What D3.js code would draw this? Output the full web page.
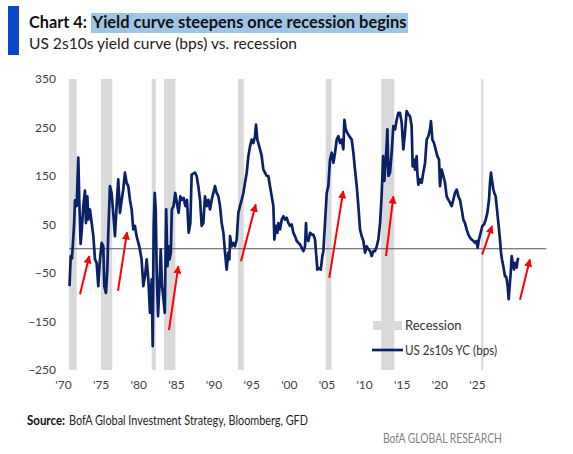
<!DOCTYPE html>
<html><head><meta charset="utf-8">
<script src="https://cdn.jsdelivr.net/npm/d3@7"></script>
<style>html,body{margin:0;padding:0;background:#fff;} svg{display:block;font-family:Lato,"Open Sans",sans-serif;}</style>
</head><body>
<svg id="c" width="573" height="454"></svg>
<script>
// ---- data ----
const years = [1970.0,1970.15,1970.3,1970.55,1970.67,1970.87,1971.07,1971.19,1971.35,1971.47,1971.68,1971.88,1972.0,1972.17,1972.29,1972.49,1972.7,1972.9,1973.1,1973.3,1973.5,1973.71,1973.91,1974.11,1974.23,1974.43,1974.6,1974.72,1974.92,1975.12,1975.32,1975.53,1975.73,1975.93,1976.14,1976.34,1976.54,1976.74,1976.95,1977.15,1977.36,1977.56,1977.76,1977.96,1978.16,1978.49,1978.77,1978.98,1979.18,1979.39,1979.59,1979.79,1980.0,1980.12,1980.24,1980.37,1980.49,1980.61,1980.77,1980.94,1981.1,1981.26,1981.43,1981.59,1981.76,1981.92,1982.04,1982.17,1982.33,1982.45,1982.66,1982.86,1983.06,1983.27,1983.48,1983.68,1983.88,1984.09,1984.29,1984.5,1984.7,1984.86,1985.05,1985.27,1985.47,1985.67,1985.88,1986.08,1986.28,1986.48,1986.69,1986.89,1987.09,1987.3,1987.5,1987.7,1987.9,1988.11,1988.31,1988.51,1988.72,1988.92,1989.12,1989.32,1989.45,1989.53,1989.73,1989.93,1990.13,1990.34,1990.54,1990.74,1990.95,1991.15,1991.35,1991.56,1991.76,1991.96,1992.16,1992.37,1992.57,1992.69,1992.85,1992.97,1993.18,1993.38,1993.58,1993.78,1993.99,1994.19,1994.39,1994.6,1994.8,1994.92,1995.12,1995.29,1995.41,1995.61,1995.81,1996.02,1996.22,1996.42,1996.62,1996.83,1997.03,1997.23,1997.43,1997.64,1997.84,1998.04,1998.25,1998.45,1998.65,1998.77,1998.85,1999.06,1999.26,1999.46,1999.66,1999.87,1999.99,2000.15,2000.35,2000.56,2000.76,2000.88,2001.08,2001.29,2001.49,2001.69,2001.9,2002.1,2002.3,2002.5,2002.71,2002.91,2003.11,2003.31,2003.44,2003.6,2003.8,2004.04,2004.33,2004.53,2004.73,2004.94,2005.14,2005.34,2005.54,2005.75,2005.95,2006.15,2006.36,2006.56,2006.76,2006.96,2007.17,2007.37,2007.57,2007.78,2007.97,2008.15,2008.3,2008.46,2008.67,2008.8,2008.99,2009.19,2009.39,2009.6,2009.8,2010.0,2010.2,2010.41,2010.61,2010.81,2011.01,2011.22,2011.42,2011.62,2011.74,2011.91,2012.03,2012.23,2012.31,2012.43,2012.64,2012.84,2013.04,2013.25,2013.45,2013.65,2013.85,2013.97,2014.14,2014.34,2014.54,2014.75,2014.95,2015.07,2015.27,2015.48,2015.68,2015.88,2016.08,2016.29,2016.49,2016.69,2016.89,2017.1,2017.3,2017.5,2017.71,2017.91,2018.11,2018.31,2018.52,2018.72,2018.92,2019.13,2019.33,2019.53,2019.65,2019.81,2020.02,2020.22,2020.42,2020.63,2020.83,2021.03,2021.15,2021.27,2021.44,2021.56,2021.68,2021.84,2021.96,2022.17,2022.37,2022.49,2022.61,2022.77,2022.98,2023.1,2023.18,2023.3,2023.42,2023.54,2023.67,2023.79,2023.91,2024.07,2024.19,2024.4,2024.52,2024.64];
const yc2s10s = [-77,-15,-20,47,100,88,188,100,10,33,88,120,53,108,60,81,53,26,-22,-29,-77,-22,12,5,-77,-91,-43,33,129,115,74,26,88,143,74,100,122,157,136,129,100,81,40,47,26,5,-22,-77,-57,-22,-63,-132,-63,-201,47,115,81,-50,-139,-77,-1,-77,-104,-132,81,-36,5,-22,-8,81,88,115,95,74,108,101,105,88,101,33,53,153,155,157,150,129,101,47,53,108,88,101,81,101,115,129,115,108,88,53,33,-8,-43,-8,-22,26,5,12,5,19,74,88,101,115,136,157,191,211,225,218,232,256,225,218,205,191,163,157,150,150,129,108,88,19,47,33,53,40,60,67,60,64,53,47,50,33,26,16,12,9,2,-5,5,53,19,16,33,29,29,19,-8,-43,-40,-43,-15,-5,53,115,129,184,198,177,198,225,232,218,225,205,266,246,239,232,225,198,163,129,88,40,26,16,-8,5,-1,-5,-15,-5,-5,5,19,53,110,191,140,177,246,150,157,198,253,246,266,280,280,260,205,239,284,277,273,253,170,184,163,191,157,132,143,136,157,177,225,232,246,263,225,218,205,191,184,129,163,150,136,108,101,95,88,101,115,122,108,101,81,60,53,40,29,23,19,16,12,16,2,19,33,47,50,60,74,101,136,157,136,122,115,108,88,53,19,-8,-22,-36,-57,-57,-63,-77,-104,-77,-50,-15,-29,-43,-29,-39,-22,-19];
const recessionStart = [1969.95,1973.83,1980.0,1981.5,1990.5,2001.17,2007.92,2020.08];
const recessionEnd   = [1970.88,1975.2,1980.5,1982.88,1991.2,2001.88,2009.5,2020.33];
const yTicks = [350,250,150,50,-50,-150,-250];
const xTickYears = [1970,1975,1980,1985,1990,1995,2000,2005,2010,2015,2020,2025];
const xTickLabels = ["'70","'75","'80","'85","'90","'95","'00","'05","'10","'15","'20","'25"];
// red annotation arrows: [startYear, startValue, tipYear, tipValue]
const arrowStartYear = [1971.28,1975.9,1982.1,1990.86,2001.6,2008.5,2020.2,2024.8];
const arrowStartVal  = [-94,-87,-168,-26,-60,-15,-12,-105];
const arrowTipYear   = [1972.41,1977.0,1983.24,1992.65,2003.3,2009.4,2021.4,2026.0];
const arrowTipVal    = [-15,34,-36,91,119,108,47,-22];

// ---- chart ----
const svg = d3.select("#c");
const x = d3.scaleLinear().domain([1970, 2028]).range([69.5, 546.3]);
const xLab = d3.scaleLinear().domain([1970, 2025]).range([63, 477]);
const y = d3.scaleLinear().domain([-250, 350]).range([370, 79]);

// header
svg.append("rect").attr("x",8).attr("y",6).attr("width",11).attr("height",49).attr("fill","#0b48c9");
svg.append("rect").attr("x",91).attr("y",13).attr("width",317).attr("height",20).attr("fill","#9fc5e4");
svg.append("text").attr("x",29).attr("y",27.5).attr("font-size",17).attr("font-weight","bold").attr("fill","#111")
  .attr("textLength",58).attr("lengthAdjust","spacingAndGlyphs").text("Chart 4:");
svg.append("text").attr("x",92.5).attr("y",27.5).attr("font-size",17).attr("font-weight","bold").attr("fill","#111")
  .attr("textLength",314).attr("lengthAdjust","spacingAndGlyphs").text("Yield curve steepens once recession begins");
svg.append("text").attr("x",29).attr("y",48.5).attr("font-size",15).attr("fill","#222")
  .attr("textLength",268).attr("lengthAdjust","spacingAndGlyphs").text("US 2s10s yield curve (bps) vs. recession");

// recession bars
const rec = recessionStart.map((s,i)=>({s, e: recessionEnd[i]}));
svg.append("g").selectAll("rect").data(rec).join("rect")
  .attr("x", d=>x(d.s)).attr("width", d=>Math.max(1.5, x(d.e)-x(d.s)))
  .attr("y", y(350)).attr("height", y(-250)-y(350)).attr("fill","#d9d9d9");

// y axis labels
const yAxis = d3.axisLeft(y).tickValues(yTicks).tickSize(0).tickPadding(0);
const gy = svg.append("g").attr("transform","translate(56,0)").call(yAxis);
gy.select(".domain").remove();
gy.selectAll("text").attr("font-size",12).attr("fill","#404040").attr("font-family","Lato,sans-serif");

// x axis labels
const xAxis = d3.axisBottom(xLab).tickValues(xTickYears).tickFormat((d,i)=>xTickLabels[i]).tickSize(0).tickPadding(0);
const gx = svg.append("g").attr("transform","translate(0,380)").call(xAxis);
gx.select(".domain").remove();
gx.selectAll("text").attr("font-size",12).attr("fill","#404040").attr("font-family","Lato,sans-serif");

// zero line
svg.append("line").attr("x1",x(1970)-0.5).attr("x2",x(2028)).attr("y1",y(0)).attr("y2",y(0))
  .attr("stroke","#555").attr("stroke-width",1);

// series line
const pts = years.map((t,i)=>[t, yc2s10s[i]]);
svg.append("path").datum(pts)
  .attr("d", d3.line().x(d=>x(d[0])).y(d=>y(d[1])))
  .attr("fill","none").attr("stroke","#0a2167").attr("stroke-width",2.7).attr("stroke-linejoin","round");

// arrows
const defs = svg.append("defs");
defs.append("marker").attr("id","ah").attr("viewBox","0 0 10 10").attr("refX",9).attr("refY",5)
  .attr("markerUnits","userSpaceOnUse").attr("markerWidth",9).attr("markerHeight",8).attr("orient","auto")
  .append("path").attr("d","M0,0 L10,5 L0,10 Z").attr("fill","#ff0000");
const arrows = arrowStartYear.map((s,i)=>({x1:s,y1:arrowStartVal[i],x2:arrowTipYear[i],y2:arrowTipVal[i]}));
svg.append("g").selectAll("line").data(arrows).join("line")
  .attr("x1",d=>x(d.x1)).attr("y1",d=>y(d.y1)).attr("x2",d=>x(d.x2)).attr("y2",d=>y(d.y2))
  .attr("stroke","#ff0000").attr("stroke-width",2).attr("marker-end","url(#ah)");

// legend
svg.append("rect").attr("x",373).attr("y",321).attr("width",29).attr("height",9).attr("fill","#d9d9d9");
svg.append("text").attr("x",405).attr("y",330).attr("font-size",13).attr("fill","#333").text("Recession");
svg.append("line").attr("x1",372).attr("x2",403).attr("y1",350).attr("y2",350).attr("stroke","#0a2167").attr("stroke-width",2.7);
svg.append("text").attr("x",405).attr("y",355).attr("font-size",13).attr("fill","#333")
  .attr("textLength",92).attr("lengthAdjust","spacingAndGlyphs").text("US 2s10s YC (bps)");

// source
svg.append("text").attr("x",27).attr("y",424.5).attr("font-size",13).attr("font-weight","bold").attr("fill","#111")
  .attr("textLength",38).attr("lengthAdjust","spacingAndGlyphs").text("Source:");
svg.append("text").attr("x",69).attr("y",424.5).attr("font-size",13).attr("fill","#222")
  .attr("textLength",239).attr("lengthAdjust","spacingAndGlyphs").text("BofA Global Investment Strategy, Bloomberg, GFD");
svg.append("text").attr("x",502).attr("y",442.5).attr("font-size",13).attr("fill","#7f7f7f").attr("text-anchor","end")
  .attr("textLength",119).attr("lengthAdjust","spacingAndGlyphs").text("BofA GLOBAL RESEARCH");
</script>
</body></html>
